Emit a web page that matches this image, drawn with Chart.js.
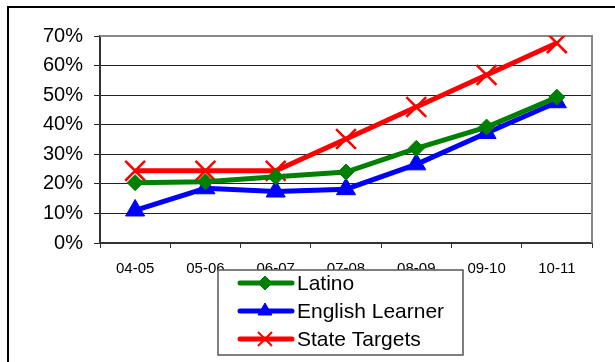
<!DOCTYPE html>
<html>
<head>
<meta charset="utf-8">
<script src="https://cdn.jsdelivr.net/npm/chart.js@4"></script>
<style>
  html, body { margin: 0; padding: 0; background: #fff; }
  #wrap { position: relative; width: 615px; height: 362px; }
</style>
</head>
<body>
<div id="wrap"><canvas id="c" width="615" height="362"></canvas></div>
<script>
const categories = ['04-05', '05-06', '06-07', '07-08', '08-09', '09-10', '10-11'];
const latino = [20.4, 20.7, 22.4, 24.0, 32.0, 39.2, 49.3];
const englishLearner = [11.0, 18.5, 17.4, 18.2, 26.6, 37.2, 47.6];
const stateTargets = [24.4, 24.4, 24.4, 35.2, 46.0, 56.8, 67.6];
const seriesNames = ['Latino', 'English Learner', 'State Targets'];
const yMax = 70, yStep = 10;

const FONT = 'Arial, "Liberation Sans", sans-serif';

function drawMarker(ctx, style, r, x, y) {
  ctx.beginPath();
  if (style === 'rectRot') {
    ctx.moveTo(x, y - r); ctx.lineTo(x + r, y); ctx.lineTo(x, y + r); ctx.lineTo(x - r, y); ctx.closePath();
    ctx.fill(); ctx.stroke();
  } else if (style === 'triangle') {
    ctx.moveTo(x, y - r); ctx.lineTo(x + r * 0.87, y + r * 0.5); ctx.lineTo(x - r * 0.87, y + r * 0.5); ctx.closePath();
    ctx.fill(); ctx.stroke();
  } else {
    const d = r * 0.7;
    ctx.moveTo(x - d, y - d); ctx.lineTo(x + d, y + d);
    ctx.moveTo(x + d, y - d); ctx.lineTo(x - d, y + d);
    ctx.stroke();
  }
}

const frameAndLegend = {
  id: 'frameAndLegend',
  beforeDatasetsDraw(chart) {
    const ctx = chart.ctx, a = chart.chartArea;
    ctx.save();
    ctx.strokeStyle = '#888';
    ctx.lineWidth = 2;
    ctx.beginPath();
    ctx.moveTo(a.left, a.top);
    ctx.lineTo(a.right, a.top);
    ctx.lineTo(a.right, a.bottom);
    ctx.stroke();
    ctx.restore();
  },
  afterDraw(chart) {
    const ctx = chart.ctx;
    ctx.save();
    // outer frame (left and top)
    ctx.strokeStyle = '#000';
    ctx.lineWidth = 2;
    ctx.beginPath();
    ctx.moveTo(8, 362);
    ctx.lineTo(8, 7);
    ctx.lineTo(615, 7);
    ctx.stroke();
    // legend box
    const bx = 218, by = 270, bw = 245, bh = 85;
    ctx.fillStyle = '#fff';
    ctx.fillRect(bx, by, bw, bh);
    ctx.strokeStyle = '#555';
    ctx.lineWidth = 1.5;
    ctx.strokeRect(bx, by, bw, bh);
    const rows = [283, 311, 339];
    chart.data.datasets.forEach((ds, i) => {
      const y = rows[i];
      ctx.strokeStyle = ds.borderColor;
      ctx.lineWidth = 5;
      ctx.lineCap = 'round';
      ctx.beginPath();
      ctx.moveTo(240, y);
      ctx.lineTo(292, y);
      ctx.stroke();
      ctx.lineCap = 'butt';
      const legR = { rectRot: 7, triangle: 8, crossRot: 10 }[ds.pointStyle];
      ctx.fillStyle = ds.borderColor;
      ctx.strokeStyle = ds.borderColor;
      ctx.lineWidth = ds.pointStyle === 'crossRot' ? 2 : 1;
      drawMarker(ctx, ds.pointStyle, legR, 265, y);
      ctx.fillStyle = '#000';
      ctx.font = '21px ' + FONT;
      ctx.textAlign = 'left';
      ctx.textBaseline = 'middle';
      ctx.fillText(ds.label, 297, y + 1);
    });
    ctx.restore();
  }
};

new Chart(document.getElementById('c'), {
  type: 'line',
  data: {
    labels: categories,
    datasets: [
      { label: seriesNames[0], data: latino, borderColor: '#008000', backgroundColor: '#008000',
        borderWidth: 5, pointStyle: 'rectRot', pointRadius: 8, pointBorderWidth: 1, tension: 0 },
      { label: seriesNames[1], data: englishLearner, borderColor: '#0000FF', backgroundColor: '#0000FF',
        borderWidth: 5, pointStyle: 'triangle', pointRadius: 11, pointBorderWidth: 1, tension: 0 },
      { label: seriesNames[2], data: stateTargets, borderColor: '#FF0000', backgroundColor: '#FF0000',
        borderWidth: 5, pointStyle: 'crossRot', pointRadius: 14, pointBorderWidth: 2.5, tension: 0 }
    ]
  },
  options: {
    responsive: false,
    animation: false,
    layout: { padding: { top: 36, right: 23, left: 0, bottom: 0 } },
    plugins: { legend: { display: false }, tooltip: { enabled: false } },
    scales: {
      x: {
        offset: true,
        grid: { offset: true, drawOnChartArea: false, drawTicks: true, tickLength: 5, color: '#333', lineWidth: 1 },
        border: { color: '#333', width: 2 },
        ticks: { font: { family: FONT, size: 15 }, color: '#000', padding: 12, maxRotation: 0 },
        afterFit(s) { s.height = 119; }
      },
      y: {
        min: 0, max: yMax,
        grid: { color: '#222', lineWidth: 1, tickLength: 6 },
        border: { color: '#333', width: 2 },
        ticks: { stepSize: yStep, font: { family: FONT, size: 20 }, color: '#000', padding: 11,
          callback: v => v + '%' },
        afterFit(s) { s.width = 100; }
      }
    }
  },
  plugins: [frameAndLegend]
});
</script>
</body>
</html>
